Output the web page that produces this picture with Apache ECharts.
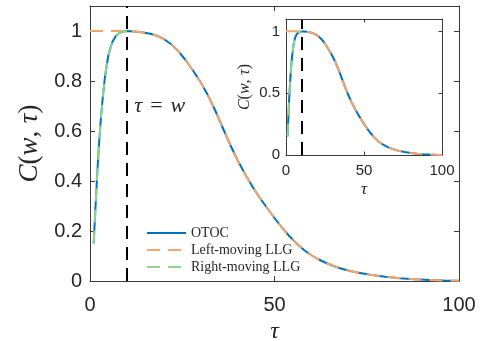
<!DOCTYPE html>
<html>
<head>
<meta charset="utf-8">
<script src="https://cdn.jsdelivr.net/npm/echarts@6/dist/echarts.min.js"></script>
<style>
  html, body { margin: 0; padding: 0; background: #ffffff; }
  #chart { width: 489px; height: 341px; }
</style>
</head>
<body>
<div id="chart"></div>
<script>
// Window width w, where the OTOC reaches its plateau
const w = 10;

// OTOC C(w, tau) sampled along tau
const tau = [1, 1.5, 2, 2.5, 3, 3.5, 4, 4.5, 5, 6, 7, 8, 9, 10,
  12, 14, 16, 18, 20, 22, 24, 26, 28, 30, 32, 34, 36, 38, 40, 42, 44, 46, 48, 50,
  52, 54, 56, 58, 60, 62, 64, 66, 68, 70, 72, 74, 76, 78, 80, 84, 88, 92, 96, 100];
const otoc = [0.15, 0.30, 0.44, 0.56, 0.66, 0.74, 0.81, 0.86, 0.905, 0.955, 0.98, 0.993, 0.998, 1.0,
  0.998, 0.995, 0.990, 0.982, 0.968, 0.947, 0.918, 0.882, 0.840, 0.795, 0.742, 0.680, 0.612, 0.545, 0.483, 0.428, 0.378, 0.333, 0.292, 0.252,
  0.214, 0.180, 0.150, 0.124, 0.103, 0.086, 0.072, 0.060, 0.050, 0.042, 0.035, 0.030, 0.025, 0.021, 0.017, 0.011, 0.007, 0.004, 0.002, 0.001];

// Left-moving LLG: flat at 1 up to tau = w
const leftPlateauTau = [0, 10];
const leftPlateau = [1, 1];

// Tick labels
const xTicks = [0, 50, 100];
const yTicksMain = [0, 0.2, 0.4, 0.6, 0.8, 1];
const yTicksInset = [0, 0.5, 1];

const seriesNames = ['OTOC', 'Left-moving LLG', 'Right-moving LLG'];
const colors = ['#0072BD', '#F7A66B', '#8FD48A'];

const sans = '"Liberation Sans", Arial, Helvetica, sans-serif';
const serif = '"Liberation Serif", "Times New Roman", serif';
const ink = '#262626';
const axisColor = '#3a3a3a';

const pairs = (xs, ys) => xs.map((x, i) => [x, ys[i]]);
const otocData = pairs(tau, otoc);
const leftData = pairs(leftPlateauTau, leftPlateau).concat(otocData.filter(p => p[0] > w));
const rightData = otocData.filter(p => p[0] <= w);

// Italic letters, upright punctuation, as in C(w, tau)
const cwtRich = (size) => ({
  i: { fontFamily: serif, fontStyle: 'italic', fontSize: size, color: ink },
  u: { fontFamily: serif, fontSize: size, color: ink }
});
const cwtText = '{i|C}{u|(}{i|w}{u|,} {i|τ}{u|)}';

function xAxes(gridIndex, o) {
  const base = {
    type: 'value', gridIndex, min: 0, max: 100, interval: 50,
    splitLine: { show: false },
    axisLine: { show: true, onZero: false, lineStyle: { color: axisColor, width: 1 } },
    axisTick: { show: true, inside: true, length: o.tick, customValues: xTicks, lineStyle: { color: axisColor } }
  };
  return [
    Object.assign({}, base, {
      position: 'bottom',
      axisLabel: { show: true, customValues: xTicks, fontFamily: sans, fontSize: o.font, color: ink, margin: o.labelMargin },
      name: 'τ', nameLocation: 'middle', nameGap: o.nameGap,
      nameTextStyle: { fontFamily: serif, fontStyle: 'italic', fontSize: o.nameSize, color: ink }
    }),
    Object.assign({}, base, { position: 'top', axisLabel: { show: false } })
  ];
}

function yAxes(gridIndex, ticks, o) {
  const base = {
    type: 'value', gridIndex, min: 0, max: 1.1,
    splitLine: { show: false },
    axisLine: { show: true, onZero: false, lineStyle: { color: axisColor, width: 1 } },
    axisTick: { show: true, inside: true, length: o.tick, customValues: ticks, lineStyle: { color: axisColor } }
  };
  return [
    Object.assign({}, base, {
      position: 'left',
      axisLabel: { show: true, customValues: ticks, fontFamily: sans, fontSize: o.font, color: ink, margin: o.labelMargin },
      name: cwtText, nameLocation: 'middle', nameGap: o.nameGap,
      nameTextStyle: { rich: cwtRich(o.nameSize), fontSize: o.nameSize }
    }),
    Object.assign({}, base, { position: 'right', axisLabel: { show: false } })
  ];
}

function curves(xi, yi) {
  const common = { type: 'line', xAxisIndex: xi, yAxisIndex: yi, symbol: 'none', silent: true, animation: false };
  return [
    Object.assign({}, common, {
      name: seriesNames[0], data: otocData, z: 2,
      lineStyle: { color: colors[0], width: 2 }, itemStyle: { color: colors[0] },
      markLine: {
        silent: true, symbol: 'none', animation: false,
        label: { show: false },
        lineStyle: { color: '#000000', width: 2, type: [13, 8] },
        data: [{ xAxis: w }]
      }
    }),
    Object.assign({}, common, {
      name: seriesNames[1], data: leftData, z: 3,
      lineStyle: { color: colors[1], width: 2, type: [13, 8] }, itemStyle: { color: colors[1] }
    }),
    Object.assign({}, common, {
      name: seriesNames[2], data: rightData, z: 4,
      lineStyle: { color: colors[2], width: 2, type: [13, 8] }, itemStyle: { color: colors[2] }
    })
  ];
}

const chart = echarts.init(document.getElementById('chart'), null, { renderer: 'canvas' });

const mainX = xAxes(0, { tick: 5, font: 20, labelMargin: 14, nameGap: 36, nameSize: 24 });
const insetX = xAxes(1, { tick: 3.5, font: 15, labelMargin: 8, nameGap: 26, nameSize: 17 });
const mainY = yAxes(0, yTicksMain, { tick: 5, font: 20, labelMargin: 8, nameGap: 47, nameSize: 27 });
const insetY = yAxes(1, yTicksInset, { tick: 3.5, font: 15, labelMargin: 6, nameGap: 33, nameSize: 16 });

chart.setOption({
  backgroundColor: '#ffffff',
  animation: false,
  grid: [
    { left: 90, top: 6, right: 30, bottom: 60, containLabel: false, outerBoundsMode: 'none' },
    { left: 286, top: 19, width: 156, height: 136, containLabel: false, outerBoundsMode: 'none',
      show: true, backgroundColor: '#ffffff', borderWidth: 0, z: 5 }
  ],
  xAxis: [mainX[0], mainX[1], Object.assign(insetX[0], { z: 6 }), Object.assign(insetX[1], { z: 6 })],
  yAxis: [mainY[0], mainY[1], Object.assign(insetY[0], { z: 6 }), Object.assign(insetY[1], { z: 6 })],
  legend: {
    left: 141, top: 221, orient: 'vertical',
    itemWidth: 39, itemHeight: 12, itemGap: 3,
    data: seriesNames,
    itemStyle: { opacity: 0 },
    textStyle: { fontFamily: serif, fontSize: 14, color: ink, lineHeight: 12 },
    selectedMode: false
  },
  series: curves(0, 0).concat(
    curves(2, 2).map(s => Object.assign(s, { z: s.z + 6, legendHoverLink: false }))
  )
});

// Annotation next to the tau = w line
const anchor = chart.convertToPixel({ xAxisIndex: 0, yAxisIndex: 0 }, [w + 2, 0.7]);
chart.setOption({
  graphic: [{
    type: 'text', x: anchor[0], y: anchor[1], z: 10,
    style: {
      text: '{i|τ}{s| }{u|=}{s| }{i|w}',
      verticalAlign: 'middle', align: 'left',
      rich: {
        i: { fontFamily: serif, fontStyle: 'italic', fontSize: 22, fill: ink },
        u: { fontFamily: serif, fontSize: 22, fill: ink },
        s: { fontFamily: serif, fontSize: 22, width: 8 }
      }
    }
  }]
});
</script>
</body>
</html>
